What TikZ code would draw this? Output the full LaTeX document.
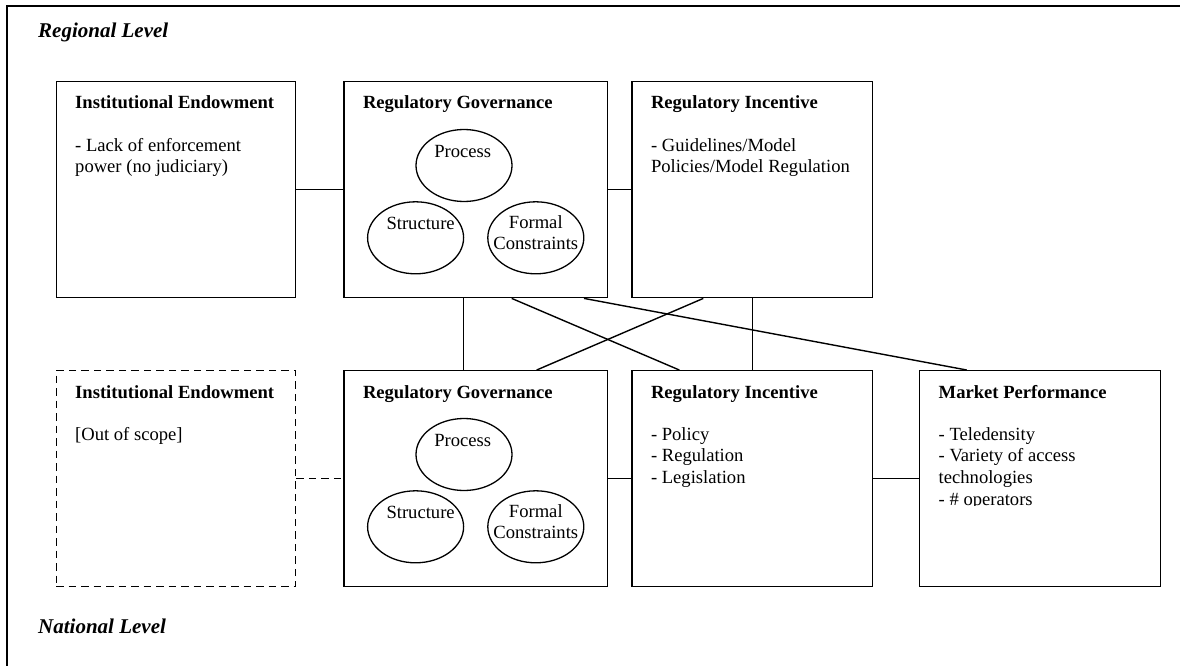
\documentclass[tikz,border=0pt]{standalone}
\usepackage{fontspec}
\setmainfont{Liberation Serif}
\usetikzlibrary{shapes.geometric}
\newcommand\bodysize{\fontsize{18.6}{21.6}\selectfont}
\begin{document}
\begin{tikzpicture}[x=1pt,y=-1pt,
  box/.style={draw, line width=1.4pt, minimum height=216pt, inner sep=0pt, anchor=north west},
  dashedbox/.style={box, dash pattern=on 7.5pt off 5pt},
  circ/.style={draw, ellipse, line width=1.3pt, minimum width=96pt, minimum height=72pt, inner sep=0pt},
  title/.style={font=\bodysize\bfseries, anchor=base west, inner sep=0pt},
  body/.style={font=\bodysize, align=left, anchor=north west, inner sep=0pt},
  ctext/.style={font=\bodysize, align=center, inner sep=0pt},
  level/.style={font=\fontsize{21}{24}\selectfont\bfseries\itshape, anchor=base west, inner sep=0pt},
  conn/.style={line width=1.4pt},
  dashedconn/.style={conn, dash pattern=on 7.5pt off 5pt}
]
\useasboundingbox (0,0) rectangle (1180,666);

% outer frame (runs off the right and bottom of the page)
\draw[line width=2.4pt] (7,720) -- (7,6) -- (1220,6);

% level labels
\node[level] (regional) at (38,37.7) {Regional Level};
\node[level] (national) at (38,633) {National Level};

% regional row
\node[box, minimum width=239.5pt] (ieT) at (55.5,81) {};
\node[box, minimum width=263.7pt] (rgT) at (343.3,81) {};
\node[box, minimum width=240.7pt] (riT) at (631.3,81) {};

% national row
\node[dashedbox, minimum width=239.5pt] (ieB) at (55.5,370) {};
\node[box, minimum width=263.7pt] (rgB) at (343.3,370) {};
\node[box, minimum width=240.7pt] (riB) at (631.3,370) {};
\node[box, minimum width=241pt] (mpB) at (919,370) {};

% box titles
\node[title] (ieT-t) at ([xshift=19.5pt,yshift=-28pt]ieT.north west) {Institutional Endowment};
\node[title] (rgT-t) at ([xshift=19.5pt,yshift=-28pt]rgT.north west) {Regulatory Governance};
\node[title] (riT-t) at ([xshift=19.5pt,yshift=-28pt]riT.north west) {Regulatory Incentive};
\node[title] (ieB-t) at ([xshift=19.5pt,yshift=-28pt]ieB.north west) {Institutional Endowment};
\node[title] (rgB-t) at ([xshift=19.5pt,yshift=-28pt]rgB.north west) {Regulatory Governance};
\node[title] (riB-t) at ([xshift=19.5pt,yshift=-28pt]riB.north west) {Regulatory Incentive};
\node[title] (mpB-t) at ([xshift=19.5pt,yshift=-28pt]mpB.north west) {Market Performance};

% box contents
\node[body] (ieT-b) at ([xshift=19.5pt,yshift=-55pt]ieT.north west) {\strut- Lack of enforcement\\power (no judiciary)};
\node[body] (riT-b) at ([xshift=19.5pt,yshift=-55pt]riT.north west) {\strut- Guidelines/Model\\Policies/Model Regulation};
\node[body] (ieB-b) at ([xshift=19.5pt,yshift=-55pt]ieB.north west) {\strut[Out of scope]};
\node[body] (riB-b) at ([xshift=19.5pt,yshift=-55pt]riB.north west) {\strut- Policy\\- Regulation\\- Legislation};
\begin{scope}
  \clip (mpB.north west) rectangle ([yshift=-135pt]mpB.north east);
  \node[body] (mpB-b) at ([xshift=19.5pt,yshift=-55pt]mpB.north west) {\strut- Teledensity\\- Variety of access\\technologies\\- \# operators};
\end{scope}

% governance elements, regional
\node[circ] (pT) at ([xshift=120.7pt,yshift=-84.5pt]rgT.north west) {};
\node[circ] (sT) at ([xshift=72.3pt,yshift=-156.8pt]rgT.north west) {};
\node[circ] (fT) at ([xshift=192.5pt,yshift=-156.8pt]rgT.north west) {};
\node[ctext, anchor=base] (pT-t) at ([xshift=-1.3pt,yshift=8pt]pT.center) {Process};
\node[ctext, anchor=base] (sT-t) at ([xshift=5pt,yshift=8.5pt]sT.center) {Structure};
\node[ctext, anchor=north] (fT-t) at ([yshift=25pt]fT.center) {\strut Formal\\Constraints};

% governance elements, national
\node[circ] (pB) at ([xshift=120.7pt,yshift=-84.5pt]rgB.north west) {};
\node[circ] (sB) at ([xshift=72.3pt,yshift=-156.8pt]rgB.north west) {};
\node[circ] (fB) at ([xshift=192.5pt,yshift=-156.8pt]rgB.north west) {};
\node[ctext, anchor=base] (pB-t) at ([xshift=-1.3pt,yshift=8pt]pB.center) {Process};
\node[ctext, anchor=base] (sB-t) at ([xshift=5pt,yshift=8.5pt]sB.center) {Structure};
\node[ctext, anchor=north] (fB-t) at ([yshift=25pt]fB.center) {\strut Formal\\Constraints};

% links within each row
\draw[conn] (ieT.east) -- (rgT.west);
\draw[conn] (rgT.east) -- (riT.west);
\draw[dashedconn] (ieB.east) -- (rgB.west);
\draw[conn] (rgB.east) -- (riB.west);
\draw[conn] (riB.east) -- (mpB.west);

% links between the levels
\draw[conn] ([xshift=120pt]rgT.south west) -- ([xshift=120pt]rgB.north west);
\draw[conn] ([xshift=168.4pt]rgT.south west) -- ([xshift=48pt]riB.north west);
\draw[conn] ([xshift=240.7pt]rgT.south west) -- ([xshift=47.7pt]mpB.north west);
\draw[conn] ([xshift=72pt]riT.south west) -- ([xshift=193.4pt]rgB.north west);
\draw[conn] (riT.south) -- (riB.north);
\end{tikzpicture}
\end{document}
